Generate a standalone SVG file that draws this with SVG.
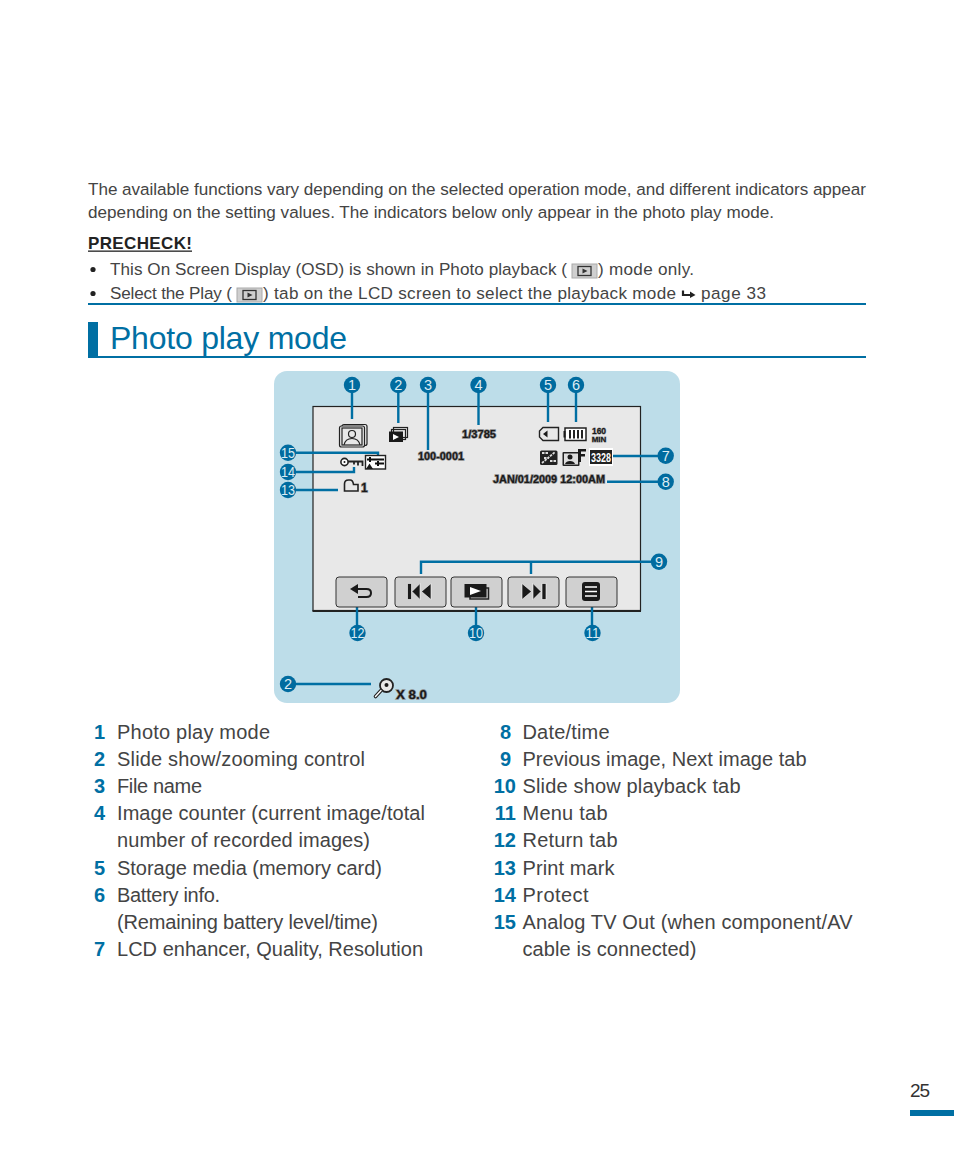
<svg xmlns="http://www.w3.org/2000/svg" width="954" height="1175" viewBox="0 0 954 1175">
<defs>
<style>
text{font-family:"Liberation Sans",Arial,sans-serif}
.b{font-size:17.1px;fill:#444}
.l{font-size:20px;fill:#444}
.n{font-size:20px;fill:#006fa3;font-weight:bold;text-anchor:end}
.c{fill:#006b9f}
.cn{font-size:14.5px;fill:#dcecf3;text-anchor:middle}
.cd{font-size:14px;fill:#dcecf3;text-anchor:middle}
.w{stroke:#006fa3;stroke-width:2.4;fill:none}
.o{font-weight:bold;fill:#1a1a1a;stroke:#8a8a8a;stroke-width:1.3;paint-order:stroke;font-size:10.5px}
.btn{fill:#d0d0d0;stroke:#333;stroke-width:1}
.ic{fill:none;stroke:#222;stroke-width:1.2}
.k{fill:#1a1a1a}
.iw{fill:#fff}
</style>
<g id="tabicon"><rect x="0" y="0" width="25" height="14" fill="#cfcfcf" stroke="#aaa" stroke-width="1"/><rect x="6" y="2.500" width="13" height="9" fill="none" stroke="#333" stroke-width="1.300"/><path d="M10.500 4.500 L15.500 7 L10.500 9.500Z" fill="#333"/></g>
</defs>
<rect width="954" height="1175" fill="#fff"/>

<g id="intro">
<text class="b" x="88" y="195" textLength="778" lengthAdjust="spacing">The available functions vary depending on the selected operation mode, and different indicators appear</text>
<text class="b" x="88" y="218" textLength="686" lengthAdjust="spacing">depending on the setting values. The indicators below only appear in the photo play mode.</text>
<text x="88" y="249" textLength="104" style="font-size:17px;fill:#222;font-weight:bold">PRECHECK!</text>
<rect x="88" y="250.500" width="104" height="1.300" fill="#222"/>
<circle cx="93" cy="269.500" r="2.600" fill="#222"/>
<circle cx="93" cy="293.500" r="2.600" fill="#222"/>
<text class="b" x="110" y="275" textLength="457">This On Screen Display (OSD) is shown in Photo playback (</text>
<use href="#tabicon" x="572" y="264"/>
<text class="b" x="598" y="275" textLength="96">) mode only.</text>
<text class="b" x="110" y="299" textLength="122">Select the Play (</text>
<use href="#tabicon" x="237" y="288"/>
<text class="b" x="263" y="299" textLength="413">) tab on the LCD screen to select the playback mode</text>
<path d="M683 290.500 V295 H691" fill="none" stroke="#222" stroke-width="2.200"/><path d="M690 291.500 L695.500 295 L690 298Z" fill="#222"/>
<text class="b" x="701" y="299" textLength="65">page 33</text>
<rect x="88" y="303" width="778" height="2" fill="#006fa3"/>
</g>

<g id="title">
<rect x="88" y="322" width="10" height="36" fill="#006fa3"/>
<rect x="88" y="356" width="778" height="2" fill="#006fa3"/>
<text x="110" y="349" textLength="237" style="font-size:32px;fill:#006fa3">Photo play mode</text>
</g>

<g id="panel">
<rect x="274" y="371" width="406" height="332" rx="13" fill="#bddde9"/>
<rect x="313" y="406.500" width="327.500" height="204" fill="#e8e8e8" stroke="#222" stroke-width="1.200"/>
<rect x="312.500" y="610" width="328.500" height="2" fill="#222"/>
</g>

<g id="connectors">
<path class="w" d="M352 392V419"/>
<path class="w" d="M398.300 392V423"/>
<path class="w" d="M428 392V450"/>
<path class="w" d="M478.500 392V425"/>
<path class="w" d="M548 392V422"/>
<path class="w" d="M576 392V422"/>
<path class="w" d="M613 456H660"/>
<path class="w" d="M607 481.700H660"/>
<path class="w" d="M421 574V561.700H655M531 561.700V574"/>
<path class="w" d="M592 607V626"/>
<path class="w" d="M476 607V626"/>
<path class="w" d="M357 607V626"/>
<path class="w" d="M290 684H371"/>
<path class="w" d="M292 452.700H378V455"/>
<path class="w" d="M292 472H354V467"/>
<path class="w" d="M292 490H338"/>
</g>

<g id="icon-photo-mode"><rect class="ic" x="342" y="424.500" width="25" height="21" rx="2"/><rect x="339.500" y="426" width="25" height="21" rx="2" fill="#e8e8e8" stroke="#222" stroke-width="1.200"/><rect class="ic" x="342" y="428" width="20" height="17"/><circle class="ic" cx="352" cy="434" r="3.500"/><path class="ic" d="M344 445C345 440 349 438.500 352 438.500C355 438.500 359 440 360 445"/></g>
<g id="icon-slideshow"><rect class="ic" x="393.500" y="427.500" width="14" height="10"/><rect class="ic" x="391.500" y="429.500" width="14" height="10" fill="#e8e8e8"/><rect x="389" y="431.500" width="14" height="10.500" class="k"/><path d="M393 434L399 437L393 440Z" class="iw"/></g>
<g id="label-filename"><text class="o" x="418" y="460" textLength="46" lengthAdjust="spacingAndGlyphs">100-0001</text></g>
<g id="label-counter"><text class="o" x="462" y="438" textLength="34" lengthAdjust="spacingAndGlyphs">1/3785</text></g>
<g id="icon-card"><path d="M543 427.500H558.500V440.500H543L539.500 437V431Z" fill="#e8e8e8" stroke="#222" stroke-width="1.400"/><path d="M547.500 430.500V437.500L543 434Z" class="k"/></g>
<g id="icon-battery"><rect x="565" y="428" width="21" height="12.500" fill="#fff" stroke="#222" stroke-width="1.500"/><rect x="563.500" y="431" width="2" height="6.500" class="k"/><path d="M570 430V438.500M574 430V438.500M578 430V438.500M582 430V438.500" stroke="#222" stroke-width="2"/></g>
<g id="label-min"><text class="o" x="599" y="434" text-anchor="middle" style="font-size:8.500px;stroke-width:.8">160</text><text class="o" x="599" y="441.500" text-anchor="middle" style="font-size:8px;stroke-width:.8">MIN</text></g>
<g id="icon-lcd"><rect x="540" y="450.500" width="17.500" height="14.500" rx="1.500" fill="#222"/><path d="M542 463L555 452M542 453H548M550 461H556M544 458H549" stroke="#ddd" stroke-width="1.800" fill="none" stroke-dasharray="2.500 1"/></g>
<g id="icon-quality"><rect x="562.500" y="452" width="17" height="14" rx="1" fill="#222"/><rect x="564" y="453.500" width="14" height="11" fill="#ddd"/><circle cx="570" cy="457" r="2.500" class="k"/><path d="M565 464C566 460 574 460 575 464Z" class="k"/><path d="M578 449H586V451.500H581V454H585V456.500H581V462H578Z" class="k"/></g>
<g id="icon-resolution"><rect x="589" y="448" width="24" height="18" fill="#fff"/><rect x="590" y="450" width="22" height="14" fill="#222"/><text x="601" y="461.500" text-anchor="middle" textLength="20" lengthAdjust="spacingAndGlyphs" style="font-size:12px;font-weight:bold;fill:#fff">3328</text></g>
<g id="label-date"><text class="o" x="493" y="482.500" textLength="112" lengthAdjust="spacingAndGlyphs">JAN/01/2009 12:00AM</text></g>
<g id="icon-av"><rect x="365.500" y="455.500" width="20" height="13.500" fill="#fff" stroke="#222" stroke-width="1.400"/><path d="M367 459.500H384M375 463.500H384" stroke="#111" stroke-width="2"/><path d="M370 457V462M378 461V466" stroke="#111" stroke-width="2"/><path d="M366 469L369.500 463.500L373 469Z" class="k"/></g>
<g id="icon-key"><circle cx="344.500" cy="462" r="3.600" fill="#fff" stroke="#222" stroke-width="1.600"/><circle cx="344.500" cy="462" r="1" class="k"/><path d="M348 461.500H362.500V466M358 461.500V465.500M354 461.500V464.500" fill="none" stroke="#222" stroke-width="1.800"/></g>
<g id="icon-print"><path d="M344.500 491V484Q344.500 480 348.500 480H350Q353 480 353.500 484.500H358V491Z" fill="#e8e8e8" stroke="#222" stroke-width="1.600"/><text class="o" x="361" y="491.500" style="font-size:12px">1</text></g>

<g id="btn-return"><rect class="btn" x="336" y="577" width="51" height="30" rx="3"/><path d="M358 584V594L350 589Z" class="k"/><path d="M356 589H366.500Q371 589 371 593Q371 597 366.500 597H358" fill="none" stroke="#1a1a1a" stroke-width="2"/></g>
<g id="btn-prev"><rect class="btn" x="395" y="577" width="51" height="30" rx="3"/><path d="M407.500 583.500H411.500V599.500H407.500ZM420 583.500V599.500L412 591.500ZM431 583.500V599.500L421.500 591.500Z" class="k" stroke="#fff" stroke-width=".6"/></g>
<g id="btn-slideshow"><rect class="btn" x="451" y="577" width="51" height="30" rx="3"/><rect x="470" y="588" width="18.500" height="11" fill="none" stroke="#222" stroke-width="1.500"/><rect x="464.500" y="584" width="22" height="13.500" class="k"/><path d="M470 587L481 591L470 595Z" class="iw"/></g>
<g id="btn-next"><rect class="btn" x="508" y="577" width="51" height="30" rx="3"/><path d="M522 583.500V599.500L531.500 591.500ZM533 583.500V599.500L541 591.500ZM542 583.500H546V599.500H542Z" class="k" stroke="#fff" stroke-width=".6"/></g>
<g id="btn-menu"><rect class="btn" x="566" y="577" width="51" height="30" rx="3"/><rect x="582" y="582" width="18" height="19" rx="3" class="k"/><path d="M585 587H597M585 591.500H597M585 596H597" stroke="#fff" stroke-width="1.600"/></g>
<g id="icon-zoom"><circle cx="386.500" cy="685.500" r="6.500" fill="#e8e8e8" stroke="#222" stroke-width="1.800"/><circle cx="386.500" cy="685" r="2" class="k"/><path d="M381 690.500L375.500 696.500" stroke="#222" stroke-width="3.600" stroke-linecap="round"/><path d="M381 690.500L375.500 696.500" stroke="#fff" stroke-width="1.400" stroke-linecap="round"/></g>
<g id="label-zoom"><text class="o" x="396" y="698.500" textLength="31" lengthAdjust="spacingAndGlyphs" style="font-size:12px">X 8.0</text></g>

<g id="c1"><circle class="c" cx="352" cy="385" r="8.200"/><text class="cn" x="352" y="390.200">1</text></g>
<g id="c2"><circle class="c" cx="398.300" cy="385" r="8.200"/><text class="cn" x="398.300" y="390.200">2</text></g>
<g id="c3"><circle class="c" cx="428" cy="385" r="8.200"/><text class="cn" x="428" y="390.200">3</text></g>
<g id="c4"><circle class="c" cx="478.500" cy="385" r="8.200"/><text class="cn" x="478.500" y="390.200">4</text></g>
<g id="c5"><circle class="c" cx="548" cy="385" r="8.200"/><text class="cn" x="548" y="390.200">5</text></g>
<g id="c6"><circle class="c" cx="576" cy="385" r="8.200"/><text class="cn" x="576" y="390.200">6</text></g>
<g id="c7"><circle class="c" cx="665.700" cy="455.700" r="8.200"/><text class="cn" x="665.700" y="460.900">7</text></g>
<g id="c8"><circle class="c" cx="665.700" cy="481.700" r="8.200"/><text class="cn" x="665.700" y="486.900">8</text></g>
<g id="c9"><circle class="c" cx="659" cy="561.700" r="8.200"/><text class="cn" x="659" y="566.900">9</text></g>
<g id="c10"><circle class="c" cx="476" cy="633" r="8.200"/><text class="cd" x="476" y="638" textLength="14" lengthAdjust="spacingAndGlyphs">10</text></g>
<g id="c11"><circle class="c" cx="592.500" cy="633" r="8.200"/><text class="cd" x="592.500" y="638" textLength="14" lengthAdjust="spacingAndGlyphs">11</text></g>
<g id="c12"><circle class="c" cx="357.500" cy="633" r="8.200"/><text class="cd" x="357.500" y="638" textLength="14" lengthAdjust="spacingAndGlyphs">12</text></g>
<g id="c13"><circle class="c" cx="288" cy="490" r="8.200"/><text class="cd" x="288" y="495" textLength="14" lengthAdjust="spacingAndGlyphs">13</text></g>
<g id="c14"><circle class="c" cx="288" cy="472" r="8.200"/><text class="cd" x="288" y="477" textLength="14" lengthAdjust="spacingAndGlyphs">14</text></g>
<g id="c15"><circle class="c" cx="288" cy="452.700" r="8.200"/><text class="cd" x="288" y="457.700" textLength="14" lengthAdjust="spacingAndGlyphs">15</text></g>
<g id="c2b"><circle class="c" cx="288" cy="684" r="8.200"/><text class="cn" x="288" y="689.200">2</text></g>

<g id="legend-left">
<text class="n" x="105" y="739">1</text><text class="l" x="117" y="739" textLength="153">Photo play mode</text>
<text class="n" x="105" y="766">2</text><text class="l" x="117" y="766" textLength="248">Slide show/zooming control</text>
<text class="n" x="105" y="793">3</text><text class="l" x="117" y="793" textLength="85">File name</text>
<text class="n" x="105" y="820">4</text><text class="l" x="117" y="820" textLength="308">Image counter (current image/total</text>
<text class="l" x="117" y="847" textLength="253">number of recorded images)</text>
<text class="n" x="105" y="875">5</text><text class="l" x="117" y="875" textLength="265">Storage media (memory card)</text>
<text class="n" x="105" y="902">6</text><text class="l" x="117" y="902" textLength="103">Battery info.</text>
<text class="l" x="117" y="929" textLength="261">(Remaining battery level/time)</text>
<text class="n" x="105" y="956">7</text><text class="l" x="117" y="956" textLength="306">LCD enhancer, Quality, Resolution</text>
</g>
<g id="legend-right">
<text class="n" x="511" y="739">8</text><text class="l" x="522.500" y="739" textLength="87">Date/time</text>
<text class="n" x="511" y="766">9</text><text class="l" x="522.500" y="766" textLength="284">Previous image, Next image tab</text>
<text class="n" x="516" y="793">10</text><text class="l" x="522.500" y="793" textLength="218">Slide show playback tab</text>
<text class="n" x="516" y="820">11</text><text class="l" x="522.500" y="820" textLength="85">Menu tab</text>
<text class="n" x="516" y="847">12</text><text class="l" x="522.500" y="847" textLength="95">Return tab</text>
<text class="n" x="516" y="875">13</text><text class="l" x="522.500" y="875" textLength="92">Print mark</text>
<text class="n" x="516" y="902">14</text><text class="l" x="522.500" y="902" textLength="66">Protect</text>
<text class="n" x="516" y="929">15</text><text class="l" x="522.500" y="929" textLength="330">Analog TV Out (when component/AV</text>
<text class="l" x="522.500" y="956" textLength="174">cable is connected)</text>
</g>

<g id="footer">
<text x="910" y="1097" textLength="20" style="font-size:19px;fill:#333">25</text>
<rect x="910" y="1110" width="44" height="6" fill="#006fa3"/>
</g>
</svg>
